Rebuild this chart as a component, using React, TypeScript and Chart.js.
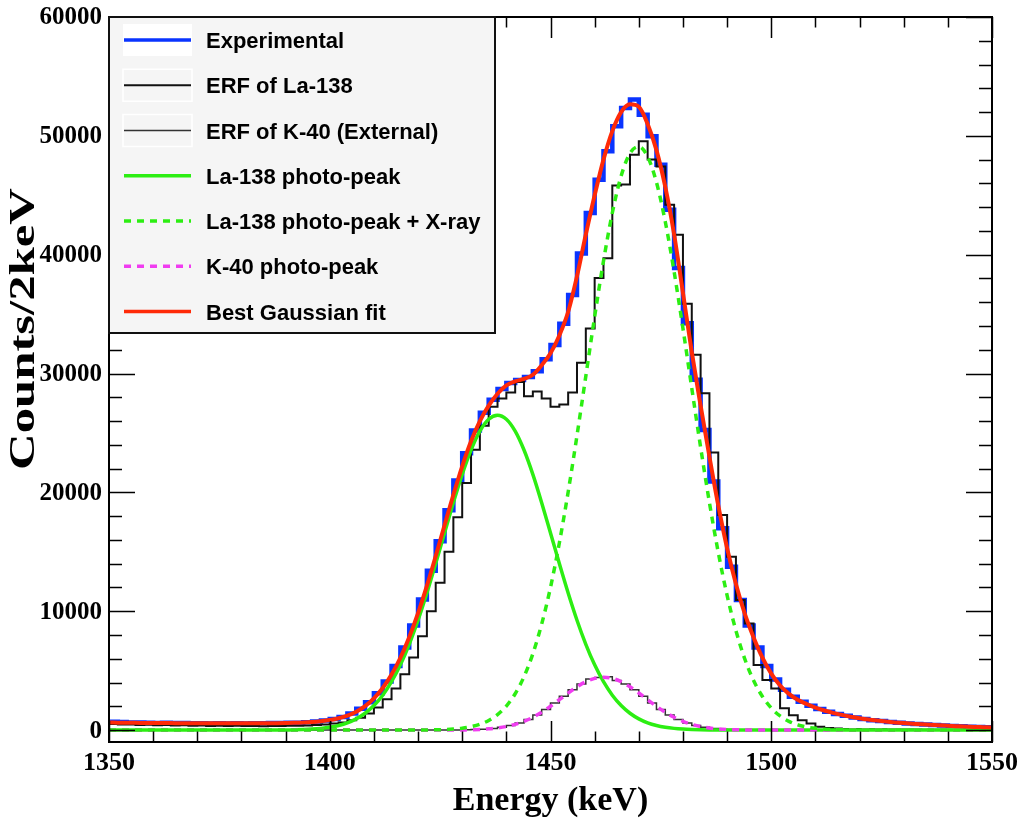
import { useEffect, useRef } from "react";
import { Chart, registerables } from "chart.js";

Chart.register(...registerables);

// ---- spectrum binning ----
const BIN_LOW = 1350; // keV, lower edge of the first bin
const BIN_WIDTH = 2; // keV per bin (Counts/2keV)

// Measured spectrum, counts per 2 keV bin (1350-1352 ... 1548-1550)
const experimental = [
  700, 680, 650, 640, 620, 600, 610, 590, 600, 570,
  580, 560, 575, 565, 580, 560, 580, 570, 590, 600,
  610, 630, 660, 720, 800, 930, 1110, 1400, 1800, 2350,
  3100, 4100, 5400, 6950, 8800, 11000, 13400, 15900, 18500, 21000,
  23300, 25200, 26700, 27800, 28700, 29200, 29450, 29700, 30200, 31200,
  32400, 34200, 36600, 40100, 43500, 46300, 48700, 50800, 52350, 53050,
  51780, 49960, 47570, 43790, 38880, 34240, 29470, 25260, 20910, 16980,
  13750, 10950, 8800, 6950, 5400, 4250, 3400, 2800, 2380, 2050,
  1780, 1550, 1360, 1200, 1060, 940, 840, 760, 680, 620,
  560, 510, 470, 425, 385, 350, 320, 285, 260, 235,
];

// Simulated response of the internal La-138 activity
const erfLa138 = [
  520, 470, 480, 430, 450, 400, 420, 380, 400, 360,
  380, 350, 370, 340, 360, 340, 350, 330, 350, 340,
  360, 370, 390, 420, 470, 550, 650, 820, 1050, 1400,
  1900, 2600, 3500, 4700, 6100, 7900, 10000, 12400, 15000, 17900,
  20800, 23580, 25600, 27200, 27900, 28400, 29300, 28100, 28500, 27900,
  27200, 27400, 28400, 30900, 33800, 38030, 39710, 45830, 45900, 48410,
  49540, 48000, 47430, 44200, 41680, 35870, 31575, 28350, 23350, 18100,
  14590, 10950, 8980, 5470, 4210, 3510, 1830, 1260, 840, 560,
  280, 180, 130, 100, 90, 80, 70, 65, 60, 50,
  50, 45, 40, 40, 35, 30, 30, 25, 25, 20,
];

// Simulated response of the external K-40 line
const erfK40 = [
  12, 10, 11, 9, 10, 12, 9, 11, 10, 10,
  11, 9, 10, 12, 10, 9, 11, 10, 10, 11,
  9, 10, 12, 10, 11, 9, 10, 11, 10, 10,
  10, 11, 10, 12, 10, 12, 14, 16, 18, 20,
  28, 45, 80, 140, 240, 390, 600, 900, 1280, 1740,
  2280, 2840, 3400, 3870, 4300, 4420, 4480, 4180, 3870, 3390,
  2840, 2280, 1740, 1280, 900, 600, 390, 240, 140, 80,
  45, 25, 15, 10, 11, 10, 9, 10, 11, 10,
  10, 9, 11, 10, 10, 12, 10, 9, 10, 11,
  10, 10, 9, 11, 10, 10, 9, 10, 11, 10,
];

// ---- fitted functions, sampled every 2 keV from 1350 to 1550 ----
const CURVE_STEP = 2;

const bestFit = [
  640, 630, 620, 610, 605, 600, 595, 590, 585, 580,
  578, 575, 572, 570, 570, 570, 572, 575, 580, 588,
  600, 615, 640, 680, 750, 850, 1000, 1220, 1550, 2020,
  2670, 3540, 4670, 6090, 7820, 9840, 12130, 14640, 17240, 19800,
  22200, 24300, 26000, 27300, 28300, 29000, 29350, 29550, 29900, 30700,
  31700, 33200, 35200, 38200, 41700, 45000, 48000, 50400, 52000, 52650,
  52450, 51000, 48800, 45700, 41700, 36800, 31800, 27300, 23000, 18900,
  15300, 12300, 9800, 7800, 6100, 4750, 3750, 3050, 2550, 2200,
  1900, 1650, 1450, 1280, 1130, 1000, 890, 800, 720, 650,
  590, 540, 490, 445, 405, 370, 335, 300, 270, 245,
  220,
];

const la138PhotoPeak = [
  0, 0, 0, 0, 0, 0, 0, 0, 0, 0,
  0, 0, 0, 0, 0, 0, 0, 0, 0, 0,
  15, 28, 49, 85, 146, 242, 391, 617, 949, 1420,
  2070, 2940, 4070, 5490, 7220, 9240, 11530, 14010, 16590, 19140,
  21520, 23570, 25160, 26160, 26500, 26160, 25160, 23570, 21520, 19140,
  16590, 14010, 11530, 9240, 7220, 5490, 4070, 2940, 2070, 1420,
  949, 617, 391, 242, 146, 85, 49, 28, 15, 8,
  4, 0, 0, 0, 0, 0, 0, 0, 0, 0,
  0, 0, 0, 0, 0, 0, 0, 0, 0, 0,
  0, 0, 0, 0, 0, 0, 0, 0, 0, 0,
  0,
];

const la138PhotoPeakXray = [
  0, 0, 0, 0, 0, 0, 0, 0, 0, 0,
  0, 0, 0, 0, 0, 0, 0, 0, 0, 0,
  0, 0, 0, 0, 0, 0, 0, 0, 0, 0,
  0, 0, 0, 0, 0, 7, 14, 26, 50, 93,
  166, 291, 493, 812, 1300, 2023, 3060, 4500, 6420, 8920,
  12010, 15740, 20040, 24780, 29780, 34780, 39460, 43510, 46620, 48530,
  49100, 48250, 46090, 42770, 38570, 33800, 28770, 23800, 19140, 14950,
  11340, 8370, 5990, 4170, 2830, 1860, 1190, 737, 444, 260,
  148, 82, 44, 23, 12, 6, 0, 0, 0, 0,
  0, 0, 0, 0, 0, 0, 0, 0, 0, 0,
  0,
];

const k40PhotoPeak = [
  0, 0, 0, 0, 0, 0, 0, 0, 0, 0,
  0, 0, 0, 0, 0, 0, 0, 0, 0, 0,
  0, 0, 0, 0, 0, 0, 0, 0, 0, 0,
  0, 0, 0, 0, 0, 0, 0, 0, 0, 0,
  15, 28, 58, 105, 183, 305, 485, 739, 1078, 1502,
  2004, 2557, 3121, 3646, 4073, 4353, 4450, 4353, 4073, 3646,
  3121, 2557, 2004, 1502, 1078, 739, 485, 305, 183, 104,
  58, 30, 15, 0, 0, 0, 0, 0, 0, 0,
  0, 0, 0, 0, 0, 0, 0, 0, 0, 0,
  0, 0, 0, 0, 0, 0, 0, 0, 0, 0,
  0,
];

// ---- axes ----
const xTickLabels = ["1350", "1400", "1450", "1500", "1550"];
const yTickLabels = ["0", "10000", "20000", "30000", "40000", "50000", "60000"];
const X_MIN = 1350;
const X_MAX = 1550;
const Y_MIN = -1000;
const Y_MAX = 60000;
const X_TITLE = "Energy (keV)";
const Y_TITLE = "Counts/2keV";

const legendOrder = [
  "Experimental",
  "ERF of La-138",
  "ERF of K-40 (External)",
  "La-138 photo-peak",
  "La-138 photo-peak + X-ray",
  "K-40 photo-peak",
  "Best Gaussian fit",
];

const BLUE = "#0a34ff";
const GREEN = "#2cee12";
const MAGENTA = "#f03cf0";
const RED = "#ff2a08";

// histogram bins -> step outline points (centres plus both outer edges)
function histPoints(values: number[]) {
  const pts = values.map((v, i) => ({ x: BIN_LOW + BIN_WIDTH * (i + 0.5), y: v }));
  pts.unshift({ x: BIN_LOW, y: values[0] });
  pts.push({ x: BIN_LOW + BIN_WIDTH * values.length, y: values[values.length - 1] });
  return pts;
}

function curvePoints(values: number[]) {
  return values.map((v, i) => ({ x: BIN_LOW + CURVE_STEP * i, y: v }));
}

const axesAndLegend = {
  id: "axesAndLegend",
  afterDraw(chart: any) {
    const { ctx, chartArea: a, scales } = chart;
    const xs = scales.x;
    const ys = scales.y;
    ctx.save();

    // tick marks on all four sides, pointing inwards
    ctx.strokeStyle = "#000";
    ctx.lineWidth = 1.5;
    ctx.beginPath();
    for (let v = X_MIN; v <= X_MAX + 1e-6; v += 10) {
      const px = Math.round(xs.getPixelForValue(v)) + 0.5;
      const major = Math.abs((v - X_MIN) % 50) < 1e-6;
      const len = major ? 21 : 10.5;
      ctx.moveTo(px, a.bottom);
      ctx.lineTo(px, a.bottom - len);
      ctx.moveTo(px, a.top);
      ctx.lineTo(px, a.top + len);
    }
    for (let v = 0; v <= Y_MAX + 1e-6; v += 2000) {
      const py = Math.round(ys.getPixelForValue(v)) + 0.5;
      const major = v % 10000 === 0;
      const len = major ? 26 : 13;
      ctx.moveTo(a.left, py);
      ctx.lineTo(a.left + len, py);
      ctx.moveTo(a.right, py);
      ctx.lineTo(a.right - len, py);
    }
    ctx.stroke();

    // frame
    ctx.lineWidth = 2;
    ctx.strokeRect(a.left, a.top, a.right - a.left, a.bottom - a.top);

    // tick labels
    ctx.fillStyle = "#000";
    ctx.font = "bold 26px 'Liberation Serif'";
    ctx.textAlign = "center";
    ctx.textBaseline = "alphabetic";
    xTickLabels.forEach((t) => {
      ctx.fillText(t, xs.getPixelForValue(Number(t)), 770);
    });
    ctx.font = "bold 25px 'Liberation Serif'";
    ctx.textAlign = "right";
    ctx.textBaseline = "middle";
    yTickLabels.forEach((t) => {
      ctx.fillText(t, a.left - 7, ys.getPixelForValue(Number(t)) + 1);
    });

    // axis titles
    ctx.font = "bold 34px 'Liberation Serif'";
    ctx.textAlign = "center";
    ctx.textBaseline = "alphabetic";
    ctx.fillText(X_TITLE, (a.left + a.right) / 2, 810);
    ctx.save();
    ctx.translate(25, 329);
    ctx.rotate(-Math.PI / 2);
    ctx.scale(1.45, 1);
    ctx.textBaseline = "middle";
    ctx.font = "bold 35px 'Liberation Serif'";
    ctx.fillText(Y_TITLE, 0, 0);
    ctx.restore();

    // legend box
    const lx = a.left;
    const ly = a.top;
    const lw = 386;
    const lh = 316;
    ctx.fillStyle = "#f5f5f5";
    ctx.fillRect(lx, ly, lw, lh);
    ctx.strokeStyle = "#111";
    ctx.lineWidth = 2;
    ctx.strokeRect(lx, ly, lw, lh);

    const rowH = 45.25;
    legendOrder.forEach((label, i) => {
      const ds = chart.data.datasets.find((d: any) => d.label === label);
      if (!ds) return;
      const cy = ly + 23 + rowH * i;
      const sx0 = lx + 15;
      const sx1 = lx + 82;
      if (label === "Experimental") {
        ctx.fillStyle = "#ffffff";
        ctx.fillRect(sx0 - 1, cy - 16, sx1 - sx0 + 2, 32);
      } else if (label.startsWith("ERF")) {
        ctx.strokeStyle = "#ffffff";
        ctx.lineWidth = 1.5;
        ctx.strokeRect(sx0 - 1, cy - 16, sx1 - sx0 + 2, 32);
      }
      ctx.strokeStyle = ds.borderColor;
      ctx.lineWidth = Math.min(ds.borderWidth, 3.5);
      ctx.setLineDash(ds.borderDash || []);
      ctx.beginPath();
      ctx.moveTo(sx0, cy);
      ctx.lineTo(sx1, cy);
      ctx.stroke();
      ctx.setLineDash([]);
      ctx.fillStyle = "#000";
      ctx.font = "bold 22px 'Liberation Sans'";
      ctx.textAlign = "left";
      ctx.textBaseline = "alphabetic";
      ctx.fillText(label, lx + 97, cy + 8);
    });

    ctx.restore();
  },
};

export default function App() {
  const canvasRef = useRef<HTMLCanvasElement | null>(null);

  useEffect(() => {
    document.body.style.margin = "0";
    const canvas = canvasRef.current;
    if (!canvas) return;

    const hist = (label: string, values: number[], color: string, width: number) => ({
      label,
      data: histPoints(values),
      borderColor: color,
      borderWidth: width,
      stepped: "middle" as const,
      pointRadius: 0,
      fill: false,
      borderJoinStyle: "miter" as const,
    });
    const curve = (label: string, values: number[], color: string, width: number, dash: number[] = []) => ({
      label,
      data: curvePoints(values),
      borderColor: color,
      borderWidth: width,
      borderDash: dash,
      pointRadius: 0,
      fill: false,
      cubicInterpolationMode: "monotone" as const,
    });

    // first dataset is painted last (on top)
    const chart = new Chart(canvas, {
      type: "line",
      data: {
        datasets: [
          curve("Best Gaussian fit", bestFit, RED, 4),
          curve("La-138 photo-peak + X-ray", la138PhotoPeakXray, GREEN, 3.5, [7, 6]),
          curve("K-40 photo-peak", k40PhotoPeak, MAGENTA, 3.5, [7, 6]),
          curve("La-138 photo-peak", la138PhotoPeak, GREEN, 3.5),
          hist("ERF of K-40 (External)", erfK40, "#333333", 1.5),
          hist("ERF of La-138", erfLa138, "#111111", 2),
          hist("Experimental", experimental, BLUE, 4.5),
        ] as any,
      },
      options: {
        animation: false,
        responsive: false,
        devicePixelRatio: 1,
        layout: { padding: { left: 109, right: 25, top: 17, bottom: 77 } },
        scales: {
          x: { type: "linear", min: X_MIN, max: X_MAX, display: false },
          y: { type: "linear", min: Y_MIN, max: Y_MAX, display: false },
        },
        plugins: {
          legend: { display: false },
          tooltip: { enabled: false },
        },
        events: [],
      },
      plugins: [axesAndLegend],
    });

    return () => chart.destroy();
  }, []);

  return (
    <canvas
      ref={canvasRef}
      width={1017}
      height={819}
      style={{ display: "block", width: 1017, height: 819 }}
    />
  );
}
